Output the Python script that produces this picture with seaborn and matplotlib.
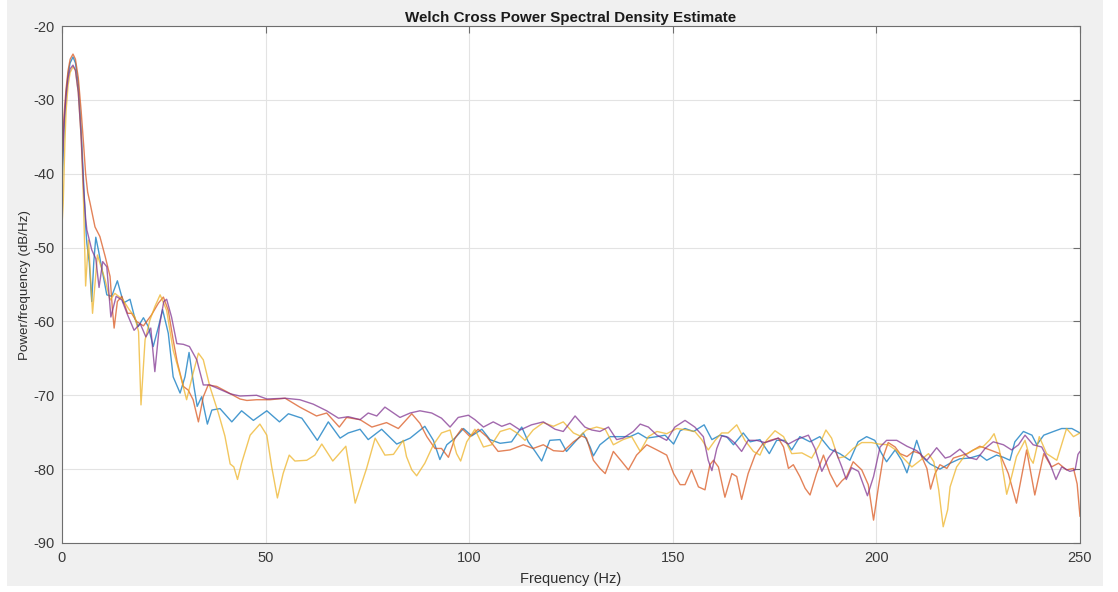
import matplotlib
matplotlib.use("Agg")
import matplotlib.pyplot as plt
from matplotlib.patches import Rectangle
import pandas as pd
import seaborn as sns

# Cross power spectral density estimates (frequency in Hz, level in dB/Hz)
pair1_pts = [(0, -42), (0.5, -34), (1, -29), (1.5, -26.5), (2, -25), (2.7, -24.2), (3.3, -25), (4, -28),
             (4.7, -34), (5.3, -41), (5.8, -47), (6.1, -49.4), (6.7, -52), (7.3, -57.3), (7.8, -52),
             (8.3, -48.6), (9.0, -50.5), (9.7, -52.6), (11, -56.4), (12.2, -56.6), (13.6, -54.5),
             (15.1, -57.5), (16.7, -57), (17.9, -59.6), (18.7, -60.7), (20, -59.5), (21.2, -60.7),
             (22.4, -63.4), (23.7, -60.7), (24.7, -58.4), (26.1, -61.6), (27.3, -67.5), (29, -69.7),
             (30.2, -67.5), (31.2, -64.2), (32.4, -68.8), (33.2, -71.5), (34.3, -70.2), (35.7, -73.9),
             (36.8, -72), (38.8, -71.8), (41.7, -73.6), (44.1, -72.1), (47, -73.4), (50.3, -72.1),
             (53.4, -73.6), (55.6, -72.5), (58.9, -73.1), (60.7, -74.5), (62.7, -76.1), (65.4, -73.6),
             (68.3, -75.8), (70.3, -75.1), (73.2, -74.6), (75.2, -76), (78.5, -74.6), (82.2, -76.6),
             (85.5, -75.8), (89.1, -74.2), (91.2, -76.1), (92.8, -78.7), (94.5, -76.7), (96.5, -75.8),
             (98.6, -74.5), (100.6, -75.5), (103.1, -74.6), (105.1, -76), (107.6, -76.5), (110.4, -76.3),
             (112.9, -74.3), (114.5, -76.3), (116.2, -77.6), (117.8, -78.9), (119.8, -76.1), (122.3, -76),
             (123.9, -77.6), (126, -76.3), (128, -75.1), (129.7, -77), (130.5, -78.2), (132.1, -76.7),
             (134.6, -75.6), (137, -75.6), (139.5, -75.6), (141.5, -75.1), (143.6, -75.8), (146.1, -75.6),
             (148.1, -75.4), (150.2, -76.6), (151.8, -74.8), (153, -74.5), (155.1, -74.9), (157.7, -74),
             (159.6, -76), (161.6, -75.4), (163.2, -75.6), (164.9, -76.7), (167.3, -75.1), (169, -76.3),
             (171.4, -76), (173.7, -77.9), (175.5, -76.1), (177.6, -76.1), (179.2, -77.4), (181.2, -75.6),
             (183.7, -76.3), (186.1, -75.6), (188.6, -77.3), (191, -77.9), (193.5, -78.8), (195.5, -76.3),
             (197.6, -75.6), (199.6, -76.1), (201.3, -77.9), (202.5, -79), (204.6, -77.4), (206.2, -78.8),
             (207.5, -80.5), (208.7, -78.3), (209.9, -76.1), (211.2, -78.3), (213.2, -79.3), (215.6, -80),
             (218.1, -79.2), (220.5, -78.6), (222.9, -78.5), (225.4, -78.1), (227.1, -78.8), (229.5, -78.1),
             (231.2, -78.4), (232.8, -78.8), (234, -76.3), (236.1, -74.9), (238.2, -75.4), (239.4, -76.7),
             (241.1, -75.4), (243.5, -74.9), (245.5, -74.5), (248, -74.5), (250, -75.1)]

pair2_pts = [(0, -38), (0.5, -32), (1, -28.5), (1.5, -26), (2, -24.5), (2.7, -23.8), (3.3, -24.5), (4, -27),
             (4.7, -31.5), (5.3, -36), (5.8, -40), (6.3, -42.5), (6.9, -44), (8.1, -47.2), (9.3, -48.5),
             (10.6, -51.2), (11.8, -53.9), (12.4, -58.5), (12.8, -60.9), (13.6, -57.3), (14.7, -56.6),
             (16.1, -58.9), (17.1, -58.9), (18.3, -60), (20, -60.6), (22, -59.1), (23.7, -57.5),
             (24.9, -56.7), (26.1, -58.5), (27.3, -62.5), (28.3, -65.5), (29.8, -68.8), (31, -69.3),
             (32.2, -70.6), (33.5, -73.6), (34.7, -70.2), (35.9, -68.6), (38, -68.8), (40.4, -69.5),
             (43.7, -70.5), (45.4, -70.7), (47.8, -70.6), (51.1, -70.6), (54.8, -70.4), (58.4, -71.6),
             (62.5, -72.8), (65, -72.4), (68.1, -74.3), (69.9, -73), (73.2, -73.3), (76.1, -74.3),
             (79.7, -73.7), (82.6, -74.5), (85.9, -72.5), (87.9, -73.8), (89.6, -75.6), (91.6, -77.2),
             (93.2, -77.2), (94.9, -78.4), (96.5, -75.8), (98.2, -74.5), (100.2, -75.6), (102.2, -74.6),
             (104.3, -75.6), (107.1, -77.6), (110, -77.4), (113.3, -76.7), (115.7, -77.2), (118.2, -76.7),
             (120.7, -77.5), (123.1, -77.6), (125.6, -76.3), (127.6, -75.5), (128.8, -75.8), (130.5, -78.8),
             (132.1, -79.9), (133.4, -80.6), (135.4, -77.6), (137.5, -79), (139.1, -80.1), (141.1, -78.1),
             (143.6, -76.7), (146.1, -77.4), (148.5, -78.1), (150.2, -80.6), (151.8, -82.1), (153, -82.1),
             (154.6, -80.1), (156.3, -82.4), (157.9, -82.8), (159.1, -79.4), (160, -78.8), (161.2, -79.7),
             (162.8, -83.8), (164.5, -80.6), (165.7, -81), (166.9, -84.1), (168.5, -80.6), (170.2, -78.1),
             (172.2, -76.5), (173.9, -76.1), (175.9, -75.8), (177.2, -77), (178.4, -79.9), (179.6, -79.4),
             (181.2, -81), (182.5, -82.6), (183.7, -83.5), (185.3, -80.6), (187, -78.1), (188.6, -80.6),
             (190.3, -82.4), (191.5, -81.6), (192.7, -81), (194.3, -79), (196.4, -80.1), (198, -82.1),
             (199.3, -86.9), (200.5, -82.4), (201.7, -78.3), (202.9, -76.4), (204.6, -77), (205.8, -77.9),
             (207.5, -78.3), (209.1, -77.6), (210.8, -77.9), (212.4, -79.9), (213.3, -82.7), (214.4, -80.6),
             (215.6, -79.4), (217.3, -79.9), (218.9, -78.5), (222.3, -77.9), (225.4, -76.9), (227.9, -77.4),
             (230.3, -77.9), (232.4, -80.6), (234.4, -84.6), (236.9, -77.4), (238.9, -83.5), (241.1, -77.9),
             (243, -79.7), (244.7, -79.2), (246.7, -80.1), (248.4, -79.9), (249.3, -82), (250, -86.4)]

pair3_pts = [(0, -47), (0.3, -44), (0.7, -36), (1, -31.5), (1.5, -28), (2, -26.3), (2.7, -25.5), (3.3, -26),
             (4, -29), (4.7, -35), (5.3, -44), (5.8, -55.2), (6.5, -49), (7.5, -58.9), (8.7, -51),
             (10.6, -54.4), (11.8, -57.1), (13, -56.2), (15, -57.1), (16.5, -58.4), (17.9, -59.4),
             (18.8, -61.4), (19.4, -71.3), (20.4, -62.5), (21.6, -59.8), (22.8, -58), (24.1, -56.4),
             (25.7, -58.5), (27.3, -63.9), (29.4, -68), (30.6, -70.6), (32.2, -67), (33.5, -64.3),
             (34.7, -65.2), (36.3, -68.8), (38.4, -72.4), (40, -75.5), (41.3, -79.3), (42.2, -79.7),
             (43.1, -81.4), (44.1, -79.2), (46.2, -75.4), (48.6, -73.9), (50.3, -75.4), (51.5, -79.7),
             (52.9, -83.9), (54.3, -80.6), (55.8, -78.1), (57.2, -78.9), (60.1, -78.8), (62.1, -78.1),
             (63.8, -76.6), (66.5, -78.9), (69.7, -76.9), (71.1, -81.5), (72, -84.6), (73.6, -81.9),
             (74.8, -79.9), (76.9, -75.8), (79.3, -78.1), (81.4, -78), (83.8, -76.1), (84.6, -78.3),
             (85.9, -80.1), (87.1, -80.9), (89.1, -79.2), (91.2, -76.7), (93.2, -75.1), (95.3, -74.7),
             (96.9, -77.9), (97.9, -78.9), (99.4, -76.3), (101.4, -74.6), (103.5, -77), (105.5, -76.7),
             (107.6, -74.9), (110, -74.5), (111.7, -75.1), (113.7, -76.1), (115.7, -74.7), (118.2, -73.7),
             (120.7, -74.2), (123.1, -73.6), (125.6, -75.1), (127.2, -75.5), (128.8, -74.7), (131.3, -74.3),
             (133.4, -74.6), (135.4, -76.7), (137.8, -76), (139.9, -75.6), (142, -77.6), (144, -75.6),
             (146.1, -74.9), (148.5, -75.2), (151, -74.5), (153.4, -74.7), (155.4, -74.9), (157.1, -76),
             (158.7, -77.4), (160.4, -76.1), (162, -75.1), (163.6, -75.1), (165.7, -74), (167.7, -76.1),
             (169.8, -77.6), (171.4, -78.1), (173, -76.1), (175.1, -74.8), (177.2, -75.6), (179.2, -77.9),
             (181.7, -77.8), (184.1, -78.5), (186, -76.7), (187.6, -74.7), (189, -75.8), (190.6, -78.5),
             (192.3, -78.3), (194.3, -77.2), (196.4, -76.4), (198.8, -76.4), (200.5, -76.6), (202.9, -76.7),
             (205, -77.5), (206.6, -78.5), (208.7, -79.7), (210.8, -78.8), (212.8, -77.9), (214.1, -79),
             (215.3, -82.8), (216.4, -87.8), (217.5, -85.5), (218.1, -82.4), (219.7, -79.7), (221.8, -78.1),
             (223.8, -77.4), (226.3, -76.9), (227.9, -76), (228.9, -75.2), (230.2, -77.4), (231.3, -81),
             (232, -83.4), (233.2, -81), (234.4, -78.3), (236.5, -76.1), (237.7, -78.5), (238.5, -79.2),
             (240, -75.6), (241.8, -77.9), (244.3, -78.8), (246.7, -74.5), (248.4, -75.6), (250, -75.1)]

pair4_pts = [(0, -40), (0.5, -33), (1, -29.5), (1.5, -27), (2, -25.8), (2.7, -25.3), (3.3, -26), (4, -29),
             (4.7, -35), (5.3, -42), (5.8, -46), (6.1, -47.6), (7.3, -50.3), (8.3, -51.5), (9.1, -55.4),
             (10, -51.9), (11, -52.6), (12, -59.4), (13.3, -56.6), (14.7, -57.1), (16.1, -59.1),
             (17.7, -61.2), (19.2, -60.3), (20.6, -62.1), (21.8, -60.9), (22.8, -66.8), (23.9, -60.7),
             (25, -57.3), (25.7, -57), (26.9, -59.4), (28.2, -63), (29.8, -63.1), (31.3, -63.4),
             (33.1, -65.2), (34.7, -68.6), (36.3, -68.6), (38.8, -69.2), (41.3, -69.8), (43.7, -70.1),
             (47.8, -70), (50.3, -70.5), (54.8, -70.4), (58.4, -70.6), (61.7, -71.2), (65, -72.1),
             (67.9, -73.1), (70.3, -72.9), (73.2, -73.3), (75.2, -72.4), (77.3, -72.8), (79.3, -71.6),
             (83, -73), (85.5, -72.4), (87.9, -72.1), (90.8, -72.4), (93.2, -73.1), (95.3, -74.3),
             (97.3, -73), (99.8, -72.7), (101.4, -73.3), (103.5, -74.3), (105.9, -73.6), (108, -74.2),
             (110, -73.8), (112.5, -74.7), (115.3, -74), (118.2, -73.6), (121.1, -74.6), (123.1, -74.9),
             (126, -72.8), (128.4, -74.3), (130.1, -74.7), (132.1, -74.9), (134.2, -74.3), (136.2, -76),
             (137.8, -75.8), (140.3, -74.9), (142, -73.9), (144, -74.3), (146.1, -75.4), (148.5, -76.1),
             (150.5, -74.3), (153, -73.4), (155.4, -74.3), (157.5, -75.6), (158.7, -78.8), (159.6, -80.2),
             (160.8, -77.2), (162, -75.5), (163.6, -75.7), (165.3, -76.5), (166.9, -77.6), (168.5, -76.1),
             (170.6, -76.1), (172.6, -76.4), (173.9, -76.2), (175.9, -75.8), (178.4, -76.6), (180.4, -76),
             (183.3, -75.4), (184.9, -77.2), (186.6, -80.3), (188.2, -78.5), (189.8, -77.3), (191.5, -79.7),
             (192.6, -81.4), (193.9, -79.8), (195.6, -80.3), (197, -82.4), (197.8, -83.6), (199.3, -81),
             (200.9, -77), (202.5, -76.1), (205, -76.1), (207.5, -76.9), (209.9, -77.5), (212.4, -78.8),
             (214.8, -77.1), (216.9, -78.5), (218.1, -78.3), (220.5, -77.3), (222.6, -78.4), (224.6, -78.7),
             (226.7, -77.2), (228.7, -76.3), (231.2, -76.7), (233.2, -77.4), (234.9, -76.7), (236.5, -75.4),
             (238.5, -76.7), (240.6, -77), (242.6, -79.2), (244.1, -81.4), (245.5, -79.7), (247.5, -80.3),
             (248.8, -80.1), (249.5, -78), (250, -77.6)]

series = {"Pxy 1": pair1_pts, "Pxy 2": pair2_pts, "Pxy 3": pair3_pts, "Pxy 4": pair4_pts}
line_colors = {"Pxy 1": "#0072BD", "Pxy 2": "#D95319", "Pxy 3": "#EDB120", "Pxy 4": "#7E2F8E"}

x_ticks = [0, 50, 100, 150, 200, 250]
y_ticks = [-90, -80, -70, -60, -50, -40, -30, -20]

frames = []
for name, pts in series.items():
    frames.append(pd.DataFrame({"freq": [p[0] for p in pts],
                                "level": [p[1] for p in pts],
                                "pair": name}))
df = pd.concat(frames, ignore_index=True)

sns.set_style("white")
plt.rcParams["font.family"] = ["Liberation Sans", "DejaVu Sans"]

W, H = 1118, 592
fig = plt.figure(figsize=(W / 100, H / 100), dpi=100, facecolor="white")
fig.patches.append(Rectangle((7 / W, 6 / H), 1096 / W, 586 / H, transform=fig.transFigure,
                             facecolor="#F0F0F0", edgecolor="none", zorder=-10))
ax = fig.add_axes([62 / W, 49 / H, 1018 / W, 517 / H])
ax.set_facecolor("white")

sns.lineplot(data=df, x="freq", y="level", hue="pair", palette=line_colors,
             estimator=None, sort=False, legend=False, linewidth=1.0, ax=ax)
for ln in ax.get_lines():
    ln.set_alpha(0.72)

ax.set_xlim(0, 250)
ax.set_ylim(-90, -20)
ax.set_xticks(x_ticks)
ax.set_yticks(y_ticks)
ax.set_xticklabels([str(t) for t in x_ticks])
ax.set_yticklabels([str(t) for t in y_ticks])

ax.grid(True, color="#E3E3E3", linewidth=0.8)
ax.set_axisbelow(True)
for sp in ax.spines.values():
    sp.set_visible(True)
    sp.set_color("#6E6E6E")
    sp.set_linewidth(0.8)
ax.tick_params(direction="in", length=5, width=0.8, color="#6E6E6E",
               top=True, right=True, labelsize=10.5, labelcolor="#3A3A3A")
ax.tick_params(axis="x", pad=6)
ax.tick_params(axis="y", pad=5)

ax.set_title("Welch Cross Power Spectral Density Estimate", fontsize=10.9,
             fontweight="bold", color="#1A1A1A", pad=3)
ax.set_xlabel("Frequency (Hz)", fontsize=10.5, color="#2E2E2E", labelpad=5)
ax.set_ylabel("Power/frequency (dB/Hz)", fontsize=9.6, color="#2E2E2E", labelpad=2)

fig.savefig("out.png", dpi=100, facecolor=fig.get_facecolor())
